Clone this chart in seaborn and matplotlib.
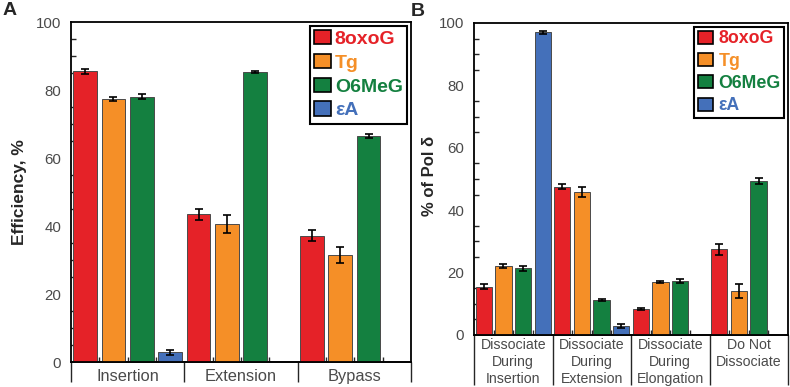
import numpy as np
import pandas as pd
import matplotlib
matplotlib.use("Agg")
import matplotlib.pyplot as plt
from matplotlib.patches import Patch
from matplotlib.container import BarContainer
import seaborn as sns

# ---------------- data ----------------
lesions = ["8oxoG", "Tg", "O6MeG", "εA"]
colors = ["#E52228", "#F58F27", "#148040", "#4470BA"]

cats_A = ["Insertion", "Extension", "Bypass"]
A_8oxoG = [85.5, 43.4, 37.2]
A_Tg = [77.3, 40.6, 31.4]
A_O6MeG = [78.0, 85.3, 66.6]
A_eA = [2.8, None, None]
A_8oxoG_err = [0.8, 1.5, 1.6]
A_Tg_err = [0.5, 2.7, 2.3]
A_O6MeG_err = [0.7, 0.2, 0.6]
A_eA_err = [0.7, None, None]

cats_B = ["Dissociate\nDuring\nInsertion", "Dissociate\nDuring\nExtension",
          "Dissociate\nDuring\nElongation", "Do Not\nDissociate"]
B_8oxoG = [15.5, 47.5, 8.4, 27.5]
B_Tg = [22.2, 45.8, 17.0, 14.0]
B_O6MeG = [21.4, 11.2, 17.3, 49.3]
B_eA = [97.0, 2.8, None, None]
B_8oxoG_err = [0.8, 0.8, 0.3, 1.8]
B_Tg_err = [0.6, 1.5, 0.3, 2.3]
B_O6MeG_err = [0.8, 0.4, 0.5, 0.9]
B_eA_err = [0.4, 0.7, None, None]


def long_df(cats, series, errs):
    rows = []
    for les, vals, es in zip(lesions, series, errs):
        for c, v, e in zip(cats, vals, es):
            if v is not None:
                rows.append({"cat": c, "lesion": les, "val": v, "err": e})
    return pd.DataFrame(rows)


dfA = long_df(cats_A, [A_8oxoG, A_Tg, A_O6MeG, A_eA],
              [A_8oxoG_err, A_Tg_err, A_O6MeG_err, A_eA_err])
dfB = long_df(cats_B, [B_8oxoG, B_Tg, B_O6MeG, B_eA],
              [B_8oxoG_err, B_Tg_err, B_O6MeG_err, B_eA_err])

sns.set_style("white")
plt.rcParams["font.family"] = ["Liberation Sans", "DejaVu Sans"]
plt.rcParams["axes.linewidth"] = 1.3

fig = plt.figure(figsize=(7.9, 3.87), dpi=100)
W, H = 790, 387


def add_axes(x0, x1, ytop, ybot):
    return fig.add_axes([x0 / W, (H - ybot) / H, (x1 - x0) / W, (ybot - ytop) / H])


axA = add_axes(71, 411, 22, 362)
axB = add_axes(474, 788, 23, 335)

TICK_COLOR = "#4a4a4a"


def draw(ax, df, cats, legend_fs, sep_len, xlab_fs, xpad, linespacing, htp):
    sns.barplot(data=df, x="cat", y="val", hue="lesion", order=cats,
                hue_order=lesions, palette=colors, saturation=1, width=1.0,
                gap=0.17, edgecolor="#4a4a4a", linewidth=0.7, errorbar=None,
                legend=False, ax=ax, zorder=2)
    # error bars from drawn bars
    lut = {(r.cat, r.lesion): r.err for r in df.itertuples()}
    bar_conts = [c for c in ax.containers if isinstance(c, BarContainer)]
    for li, cont in enumerate(bar_conts):
        for p in list(cont.patches):
            xc = p.get_x() + p.get_width() / 2
            ci = int(round(xc))
            h = p.get_height()
            if np.isnan(h):
                continue
            e = lut.get((cats[ci], lesions[li]))
            if e is None or (isinstance(e, float) and np.isnan(e)):
                continue
            ax.errorbar(xc, h, yerr=e, fmt="none", ecolor="black",
                        elinewidth=1.2, capsize=2.8, capthick=1.2, zorder=3)
    n = len(cats)
    ax.set_xlim(-0.5, n - 0.5)
    ax.set_ylim(0, 100)
    ax.set_xlabel("")
    for s in ax.spines.values():
        s.set_visible(True)
        s.set_color("black")
        s.set_linewidth(1.3)
    # y ticks
    ax.set_yticks(np.arange(0, 101, 20))
    ax.set_yticks(np.arange(0, 101, 5), minor=True)
    ax.tick_params(axis="y", which="major", direction="in", length=6, width=1.0,
                   labelsize=10.8, labelcolor=TICK_COLOR, pad=7, right=False)
    ax.tick_params(axis="y", which="minor", direction="in", length=3.5, width=1.0,
                   right=False, left=True)
    # x: labels at centers, long separators at group boundaries
    ax.set_xticks(np.arange(n))
    ax.set_xticklabels(cats, fontsize=xlab_fs, color=TICK_COLOR,
                       linespacing=linespacing)
    ax.tick_params(axis="x", which="major", length=0, pad=xpad)
    ax.set_xticks(np.arange(n + 1) - 0.5, minor=True)
    ax.tick_params(axis="x", which="minor", direction="out", length=sep_len,
                   width=1.0, bottom=True, top=False)
    # small inward ticks between bars
    sec = ax.secondary_xaxis("bottom")
    inner = []
    for c in range(n):
        inner += [c - 0.25, c, c + 0.25]
    sec.set_xticks(inner)
    sec.set_xticklabels([])
    sec.tick_params(direction="in", length=3.5, width=1.0)
    sec.spines["bottom"].set_linewidth(1.3)
    # legend
    handles = [Patch(facecolor=c, edgecolor="black", linewidth=1.2) for c in colors]
    leg = ax.legend(handles, lesions, loc="upper right", bbox_to_anchor=(1, 1),
                    borderaxespad=0.2,
                    prop={"weight": "bold", "size": legend_fs},
                    handlelength=0.85, handleheight=0.75, handletextpad=htp,
                    labelspacing=0.3, borderpad=0.22, fancybox=False,
                    framealpha=1, edgecolor="black")
    leg.get_frame().set_linewidth(1.5)
    for t, c in zip(leg.get_texts(), colors):
        t.set_color(c)
    return ax


draw(axA, dfA, cats_A, 14, 14.5, 11.8, 5, 1.0, 0.2)
axA.set_ylabel("Efficiency, %", fontsize=12.5, fontweight="bold")
axA.yaxis.set_label_coords(-0.129, 0.5)
draw(axB, dfB, cats_B, 12.8, 36, 10.2, 2.5, 1.27, 0.3)
axB.set_ylabel("% of Pol δ", fontsize=12, fontweight="bold")
axB.yaxis.set_label_coords(-0.118, 0.51)

fig.text(3 / W, 1 - 15 / H, "A", fontsize=14, fontweight="bold")
fig.text(411 / W, 1 - 16 / H, "B", fontsize=14, fontweight="bold")

fig.savefig("out.png", dpi=100)
